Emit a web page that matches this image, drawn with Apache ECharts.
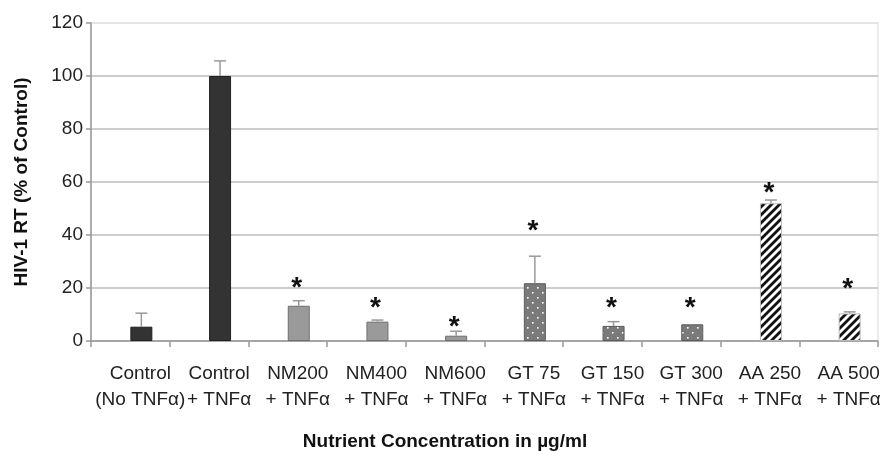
<!DOCTYPE html>
<html>
<head>
<meta charset="utf-8">
<script src="https://cdn.jsdelivr.net/npm/echarts@6/dist/echarts.min.js"></script>
<style>
  html, body { margin: 0; padding: 0; background: #fff; }
  #chart-container { width: 883px; height: 451px; }
</style>
</head>
<body>
<div id="chart-container"></div>
<script>
var categories = [
  'Control\n(No TNFα)', 'Control\n+ TNFα', 'NM200\n+ TNFα', 'NM400\n+ TNFα', 'NM600\n+ TNFα',
  'GT 75\n+ TNFα', 'GT 150\n+ TNFα', 'GT 300\n+ TNFα', 'AA 250\n+ TNFα', 'AA 500\n+ TNFα'
];
var values = [5.4, 100, 13.3, 7.3, 2.0, 21.8, 5.7, 6.3, 52, 10.4];
var errors = [5.1, 5.7, 1.9, 0.6, 1.7, 10.2, 1.6, 0, 1.2, 0.6];
var starLevels = [null, null, 22.4, 14.8, 7.7, 44, 14.8, 14.8, 58.5, 22];
var fillKinds = ['dark', 'dark', 'light', 'light', 'light', 'dots', 'dots', 'dots', 'stripes', 'stripes'];
var yTicks = [0, 20, 40, 60, 80, 100, 120];

var BAR_W = 22;

function dotPattern() {
  var c = document.createElement('canvas');
  c.width = 10; c.height = 10;
  var ctx = c.getContext('2d');
  ctx.fillStyle = '#7a7a7a';
  ctx.fillRect(0, 0, 10, 10);
  ctx.fillStyle = '#ffffff';
  ctx.fillRect(2, 2, 1.6, 1.6);
  ctx.fillRect(7, 7, 1.6, 1.6);
  return c;
}

function stripePattern() {
  var c = document.createElement('canvas');
  c.width = 8; c.height = 8;
  var ctx = c.getContext('2d');
  ctx.fillStyle = '#ffffff';
  ctx.fillRect(0, 0, 8, 8);
  ctx.strokeStyle = '#111';
  ctx.lineWidth = 2.8;
  ctx.beginPath();
  ctx.moveTo(-2, 10); ctx.lineTo(10, -2);
  ctx.moveTo(-2, 2); ctx.lineTo(2, -2);
  ctx.moveTo(6, 10); ctx.lineTo(10, 6);
  ctx.stroke();
  return c;
}

var fills = {
  dark: { color: '#333333', borderColor: '#222222' },
  light: { color: '#9a9a9a', borderColor: '#6e6e6e' },
  dots: { color: { image: dotPattern(), repeat: 'repeat' }, borderColor: '#5a5a5a' },
  stripes: { color: { image: stripePattern(), repeat: 'repeat' }, borderColor: '#bbbbbb' }
};

var barData = values.map(function (v, i) {
  var f = fills[fillKinds[i]];
  return { value: v, itemStyle: { color: f.color, borderColor: f.borderColor, borderWidth: 1 } };
});

var extraData = values.map(function (v, i) {
  return [i, v, v + errors[i], starLevels[i] == null ? -1 : starLevels[i]];
});

// grid lines: the top one is paler in the original
var splitColors = yTicks.map(function (t, i) {
  return i === yTicks.length - 1 ? '#e2e2e2' : '#bdbdbd';
});

var dom = document.getElementById('chart-container');
var myChart = echarts.init(dom, null, { renderer: 'canvas' });

var option = {
  animation: false,
  textStyle: { fontFamily: 'Liberation Sans, Arial, sans-serif' },
  grid: {
    left: 91, right: 5, top: 23, bottom: 110,
    containLabel: false, outerBoundsMode: 'none',
    show: true, borderColor: '#e6e6e6', borderWidth: 1.5
  },
  xAxis: {
    type: 'category',
    data: categories,
    axisLine: { lineStyle: { color: '#999', width: 1.5 } },
    axisTick: { show: true, length: 6, lineStyle: { color: '#999', width: 1.5 } },
    axisLabel: { interval: 0, fontSize: 19, lineHeight: 26, color: '#222', margin: 20, padding: [0, 0, 0, 20] },
    name: 'Nutrient Concentration in µg/ml',
    nameLocation: 'middle',
    nameGap: 91,
    nameTextStyle: { fontSize: 19, fontWeight: 'bold', color: '#111', padding: [0, 79, 0, 0] }
  },
  yAxis: {
    type: 'value',
    min: yTicks[0],
    max: yTicks[yTicks.length - 1],
    interval: 20,
    axisLine: { show: true, lineStyle: { color: '#999', width: 1.5 } },
    axisTick: { show: true, length: 5, lineStyle: { color: '#999', width: 1.5 } },
    axisLabel: { fontSize: 19, color: '#222', margin: 8 },
    splitLine: { lineStyle: { color: splitColors, width: 1.5 } },
    name: 'HIV-1 RT (% of Control)',
    nameLocation: 'middle',
    nameGap: 60,
    nameTextStyle: { fontSize: 19, fontWeight: 'bold', color: '#111' }
  },
  series: [
    {
      type: 'bar',
      data: values.map(function () { return null; }),
      barWidth: BAR_W,
      barGap: '0%',
      silent: true
    },
    {
      type: 'bar',
      data: barData,
      barWidth: BAR_W,
      barGap: '0%',
      silent: true
    },
    {
      type: 'custom',
      data: extraData,
      silent: true,
      z: 5,
      renderItem: function (params, api) {
        var idx = api.value(0);
        var base = api.coord([idx, api.value(1)]);
        var top = api.coord([idx, api.value(2)]);
        var x = base[0] + BAR_W / 2;
        var children = [];
        if (api.value(2) > api.value(1)) {
          children.push({
            type: 'line',
            shape: { x1: x, y1: base[1], x2: x, y2: top[1] },
            style: { stroke: '#9a9a9a', lineWidth: 1.5 }
          });
          children.push({
            type: 'line',
            shape: { x1: x - 6, y1: top[1], x2: x + 6, y2: top[1] },
            style: { stroke: '#9a9a9a', lineWidth: 1.5 }
          });
        }
        var star = api.value(3);
        if (star >= 0) {
          var s = api.coord([idx, star]);
          children.push({
            type: 'text',
            x: x - 2,
            y: s[1] + 7,
            style: {
              text: '*',
              fontSize: 28,
              fontWeight: 'bold',
              fontFamily: 'Liberation Sans, Arial, sans-serif',
              fill: '#111',
              align: 'center',
              verticalAlign: 'middle'
            }
          });
        }
        return { type: 'group', children: children };
      }
    }
  ]
};

myChart.setOption(option);
window.addEventListener('resize', myChart.resize);
</script>
</body>
</html>
